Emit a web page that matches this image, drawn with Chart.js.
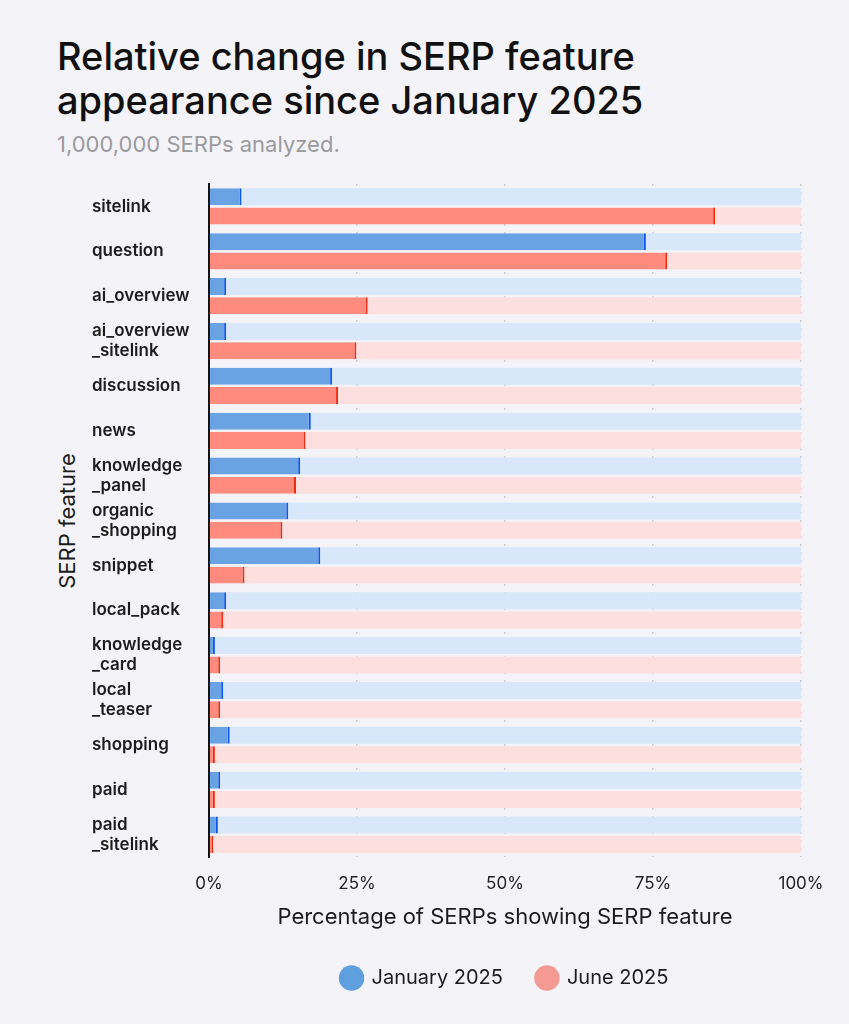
<!DOCTYPE html>
<html>
<head>
<meta charset="utf-8">
<script src="https://cdn.jsdelivr.net/npm/chart.js@4.4.1/dist/chart.umd.min.js"></script>
<style>
  html, body { margin: 0; padding: 0; background: #f4f4f8; }
  body { width: 849px; height: 1024px; position: relative; overflow: hidden; font-family: Inter, sans-serif; }
  h1 { position: absolute; left: 57px; top: 34px; margin: 0; font-size: 38px; line-height: 44px; font-weight: 500; color: #111; }
  .sub { position: absolute; left: 57px; top: 131px; margin: 0; font-size: 22px; line-height: 27px; color: #9a9a9f; }
  .ytitle { position: absolute; left: 67px; top: 521px; transform: translate(-50%, -50%) rotate(-90deg); font-size: 22px; color: #1c1c1c; white-space: nowrap; }
  .wrap { position: absolute; left: 0; top: 160px; width: 849px; height: 864px; }
</style>
</head>
<body>
<h1>Relative change in SERP feature<br>appearance since January 2025</h1>
<p class="sub">1,000,000 SERPs analyzed.</p>
<div class="ytitle">SERP feature</div>
<div class="wrap"><canvas id="chart"></canvas></div>
<script>
// values (% of SERPs)
const categories = [
  ["sitelink"], ["question"], ["ai_overview"], ["ai_overview", "_sitelink"],
  ["discussion"], ["news"], ["knowledge", "_panel"], ["organic", "_shopping"],
  ["snippet"], ["local_pack"], ["knowledge", "_card"], ["local", "_teaser"],
  ["shopping"], ["paid"], ["paid", "_sitelink"],
];
const seriesNames = ["January 2025", "June 2025"];
const janValues = [5.5, 73.8, 2.9, 2.9, 20.8, 17.2, 15.4, 13.4, 18.8, 2.9, 1.0, 2.4, 3.5, 1.9, 1.5];
const junValues = [85.5, 77.4, 26.8, 24.9, 21.8, 16.3, 14.7, 12.4, 6.0, 2.4, 1.9, 1.9, 1.0, 1.0, 0.7];
const tickValues = [0, 25, 50, 75, 100];
const tickLabels = ["0%", "25%", "50%", "75%", "100%"];

const font = "Inter, 'Noto Sans', sans-serif";
const legendColors = ["#5f9edf", "#f59a92"];

const rest = (arr) => arr.map((v) => 100 - v);

new Chart(document.getElementById("chart"), {
  type: "bar",
  data: {
    labels: categories,
    datasets: [
      {
        label: seriesNames[0],
        data: janValues,
        stack: "jan",
        backgroundColor: "#69a3e4",
        borderColor: "#0b57f0",
        borderWidth: { top: 0, bottom: 0, left: 0, right: 2 },
        borderSkipped: false,
      },
      {
        label: "jan_rest",
        data: rest(janValues),
        stack: "jan",
        backgroundColor: "#d8e7f9",
        borderWidth: 0,
      },
      {
        label: seriesNames[1],
        data: junValues,
        stack: "jun",
        backgroundColor: "#ff8a7e",
        borderColor: "#f22a10",
        borderWidth: { top: 0, bottom: 0, left: 0, right: 2 },
        borderSkipped: false,
      },
      {
        label: "jun_rest",
        data: rest(junValues),
        stack: "jun",
        backgroundColor: "#fedfe0",
        borderWidth: 0,
      },
    ],
  },
  options: {
    indexAxis: "y",
    responsive: true,
    maintainAspectRatio: false,
    animation: false,
    categoryPercentage: 0.86,
    barPercentage: 0.88,
    layout: { padding: { top: 24, left: 92, right: 48, bottom: 26 } },
    scales: {
      x: {
        stacked: true,
        min: 0,
        max: 100,
        z: 1,
        afterBuildTicks: (scale) => {
          scale.ticks = tickValues.map((v) => ({ value: v }));
        },
        ticks: {
          callback: (v) => tickLabels[tickValues.indexOf(v)],
          font: { family: font, size: 17 },
          color: "#222",
          padding: 16,
        },
        grid: {
          color: (ctx) => (ctx.tick && ctx.tick.value === 0 ? "transparent" : "rgba(60,60,80,0.22)"),
          lineWidth: 1.5,
          drawTicks: false,
        },
        border: { display: false, dash: [2, 6] },
        title: {
          display: true,
          text: "Percentage of SERPs showing SERP feature",
          font: { family: font, size: 22 },
          color: "#1c1c1c",
          padding: { top: -5, bottom: 3 },
        },
      },
      y: {
        stacked: true,
        z: 1,
        grid: { display: false },
        border: { color: "#111", width: 2 },
        ticks: {
          crossAlign: "far",
          font: { family: font, size: 17, weight: "600", lineHeight: 1.18 },
          color: "#1c1c1c",
        },
        afterFit: (scale) => {
          scale.width = 117;
        },
      },
    },
    plugins: {
      tooltip: { enabled: false },
      legend: {
        position: "bottom",
        fullSize: false,
        labels: {
          usePointStyle: true,
          boxWidth: 24,
          boxHeight: 18,
          padding: 34,
          color: "#1c1c1c",
          font: { family: font, size: 20 },
          generateLabels: () =>
            seriesNames.map((name, i) => ({
              text: name,
              fillStyle: legendColors[i],
              strokeStyle: legendColors[i],
              lineWidth: 0,
              pointStyle: "circle",
              datasetIndex: i * 2,
              fontColor: "#1c1c1c",
            })),
        },
      },
    },
  },
});
</script>
</body>
</html>
